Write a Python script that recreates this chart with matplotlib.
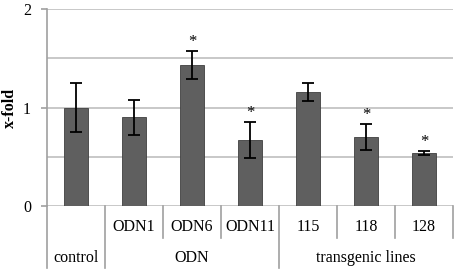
import matplotlib.pyplot as plt
from matplotlib import transforms
import numpy as np

plt.rcParams["font.family"] = ["Liberation Serif", "DejaVu Serif"]
plt.rcParams["font.size"] = 11.5

# data
categories = ["control", "ODN1", "ODN6", "ODN11", "115", "118", "128"]
values = [1.00, 0.90, 1.43, 0.67, 1.16, 0.70, 0.54]
errors = [0.25, 0.18, 0.14, 0.18, 0.09, 0.13, 0.02]
significant = [False, False, True, True, False, True, True]

# upper tier labels (one per bar), lower tier groups
upper_labels = ["", "ODN1", "ODN6", "ODN11", "115", "118", "128"]
groups = ["control", "ODN", "transgenic lines"]
group_spans = [(0, 0), (1, 3), (4, 6)]

W, H = 459, 273
fig = plt.figure(figsize=(W / 100, H / 100), dpi=100)
ax = fig.add_axes([47 / W, (H - 206) / H, (453 - 47) / W, (206 - 9) / H])

x = np.arange(len(categories))
ax.bar(x, values, width=0.4, color="#5f5f5f", edgecolor="#404040",
       linewidth=0.6, zorder=2)
ax.errorbar(x, values, yerr=errors, fmt="none", ecolor="black",
            elinewidth=1.3, capsize=4, capthick=1.3, zorder=3)
for xi, v, e, s in zip(x, values, errors, significant):
    if s:
        ax.text(xi, v + e + 0.01, "*", ha="center", va="bottom", fontsize=12)

ax.set_xlim(-0.5, len(categories) - 0.5)
ax.set_ylim(0, 2)
ax.set_yticks([0, 1, 2])
ax.set_yticks([0.5, 1.5], minor=True)
ax.grid(axis="y", which="both", color="#bfbfbf", linewidth=1.2, zorder=0)
ax.set_axisbelow(True)
ax.tick_params(axis="y", which="major", length=4.5, color="#a0a0a0", width=1.2,
               pad=7)
ax.tick_params(axis="y", which="minor", length=0)
ax.set_xticks([])
ax.set_ylabel("x-fold", fontweight="bold", labelpad=4)

for sp in ["top", "right", "bottom"]:
    ax.spines[sp].set_visible(False)
ax.spines["left"].set_color("#a0a0a0")
ax.spines["left"].set_linewidth(1.2)

# multi-level category axis drawn below the plot
trans = transforms.blended_transform_factory(ax.transData, ax.transAxes)
ah = 197.0
y_up = -32 / ah
y_low = -62 / ah
line_kw = dict(color="#a0a0a0", lw=1.2, transform=trans, clip_on=False)

for lab, xi in zip(upper_labels, x):
    if lab:
        ax.text(xi, -21 / ah, lab, ha="center", va="center", transform=trans)
for g, (a, b) in zip(groups, group_spans):
    ax.text((a + b) / 2, -51.5 / ah, g, ha="center", va="center",
            transform=trans)

# boundaries: group edges run through both tiers
group_edges = [a - 0.5 for a, b in group_spans]
for xb in group_edges:
    ax.plot([xb, xb], [0, y_low], **line_kw)
for xb in np.arange(-0.5, len(categories), 1.0):
    if xb not in group_edges:
        ax.plot([xb, xb], [0, y_up], **line_kw)

fig.savefig("out.png", dpi=100)
